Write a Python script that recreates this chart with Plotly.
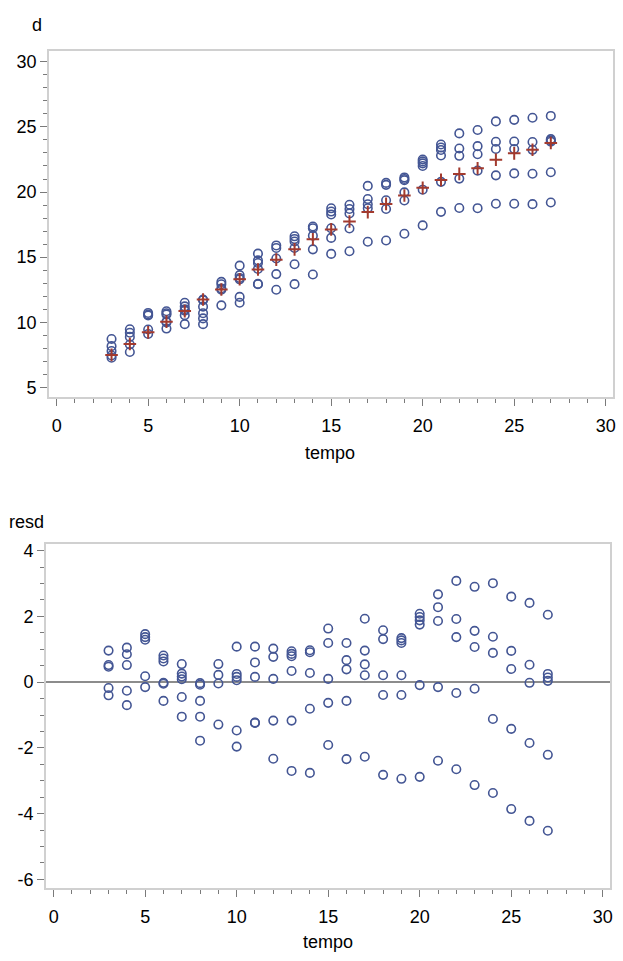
import plotly.graph_objects as go

# ---------------- data ----------------
tempo = list(range(3, 28))

d_obs = [
    [8.72, 8.17, 7.8, 7.45, 7.28],
    [9.47, 9.2, 8.88, 8.3, 7.72],
    [10.72, 10.6, 10.52, 9.45, 9.1],
    [10.85, 10.7, 10.6, 10.05, 10.0, 9.52],
    [11.5, 11.22, 11.0, 10.9, 10.55, 9.86],
    [11.75, 11.7, 11.2, 10.7, 10.3, 9.86],
    [13.1, 12.92, 12.6, 12.5, 11.3],
    [14.35, 13.62, 13.4, 13.3, 11.95, 11.5],
    [15.27, 14.75, 14.55, 14.1, 12.95, 12.92],
    [15.9, 15.7, 14.9, 13.7, 12.5],
    [16.6, 16.4, 16.2, 15.7, 14.46, 12.93],
    [17.35, 17.22, 16.65, 15.6, 13.67],
    [18.75, 18.5, 18.28, 17.22, 16.48, 15.25],
    [19.02, 18.7, 18.36, 17.2, 15.45],
    [20.47, 19.46, 19.06, 18.75, 16.18],
    [20.7, 20.55, 19.37, 18.7, 16.28],
    [21.12, 21.0, 20.9, 19.97, 19.35, 16.8],
    [22.5, 22.35, 22.2, 22.0, 20.18, 17.44],
    [23.65, 23.42, 23.23, 22.8, 20.78, 18.48],
    [24.5, 23.34, 22.78, 21.03, 18.77],
    [24.76, 23.52, 22.9, 21.64, 18.76],
    [25.42, 23.86, 23.3, 21.28, 19.1],
    [25.54, 23.88, 23.3, 21.43, 19.1],
    [25.7, 23.84, 23.24, 21.4, 19.07],
    [25.84, 24.06, 23.96, 23.86, 21.52, 19.2],
]

d_pred = [7.5, 8.34, 9.23, 10.05, 10.86, 11.75, 12.52, 13.31, 14.05, 14.81,
          15.60, 16.37, 17.13, 17.74, 18.46, 19.09, 19.73, 20.32, 20.93, 21.39,
          21.82, 22.48, 22.97, 23.25, 23.76]

resd = [
    [0.96, 0.52, 0.47, -0.18, -0.40],
    [1.05, 0.85, 0.52, -0.26, -0.70],
    [1.46, 1.37, 1.29, 0.18, -0.15],
    [0.81, 0.72, 0.63, -0.02, -0.05, -0.57],
    [0.55, 0.26, 0.17, 0.09, -0.45, -1.05],
    [-0.03, -0.08, -0.57, -1.05, -1.78],
    [0.55, 0.22, -0.04, -1.29],
    [1.08, 0.25, 0.16, 0.06, -1.47, -1.96],
    [1.08, 0.60, 0.16, -1.23, -1.24],
    [1.02, 0.77, 0.10, -1.17, -2.33],
    [0.94, 0.86, 0.79, 0.34, -1.17, -2.70],
    [0.97, 0.91, 0.28, -0.81, -2.76],
    [1.63, 1.19, 0.10, -0.63, -1.91],
    [1.19, 0.67, 0.39, -0.57, -2.34],
    [1.93, 0.96, 0.54, 0.21, -2.27],
    [1.58, 1.31, 0.21, -0.39, -2.82],
    [1.34, 1.27, 1.19, 0.21, -0.39, -2.94],
    [2.08, 1.98, 1.88, 1.75, -0.09, -2.88],
    [2.67, 2.28, 1.86, -0.15, -2.39],
    [3.08, 1.92, 1.37, -0.33, -2.65],
    [2.90, 1.56, 1.07, -0.20, -3.13],
    [3.01, 1.38, 0.89, -1.12, -3.37],
    [2.60, 0.95, 0.40, -1.42, -3.86],
    [2.41, 0.53, -0.02, -1.85, -4.22],
    [2.05, 0.25, 0.14, 0.04, -2.21, -4.52],
]

x_ticks = [0, 5, 10, 15, 20, 25, 30]
d_ticks = [5, 10, 15, 20, 25, 30]
resd_ticks = [-6, -4, -2, 0, 2, 4]
resd_ticktext = ["-6", "-4", "-2", "0", "2", "4"]

# ---------------- build ----------------
W, H = 623, 961
BLUE = "#445694"
RED = "#A23A2E"
FONT = "Liberation Sans, Arial, sans-serif"
FS = 18

def flat(xs, groups):
    xx, yy = [], []
    for x, g in zip(xs, groups):
        for v in g:
            xx.append(x)
            yy.append(v)
    return xx, yy

tx, ty = flat(tempo, d_obs)
rx, ry = flat(tempo, resd)

circ = dict(symbol="circle-open", size=8.5, color=BLUE, line=dict(color=BLUE, width=1.6))

fig = go.Figure()
fig.add_trace(go.Scatter(x=tx, y=ty, mode="markers", marker=circ,
                         xaxis="x", yaxis="y", showlegend=False))
fig.add_trace(go.Scatter(x=tempo, y=d_pred, mode="markers",
                         marker=dict(symbol="cross-thin-open", size=9, color=RED,
                                     line=dict(color=RED, width=2)),
                         xaxis="x", yaxis="y", showlegend=False))
fig.add_trace(go.Scatter(x=rx, y=ry, mode="markers", marker=circ,
                         xaxis="x2", yaxis="y2", showlegend=False))

def px_dom_x(a, b):
    return [a / W, b / W]

def px_dom_y(top, bottom):
    return [1 - bottom / H, 1 - top / H]

frame = "#d0d0d0"
tickc = "#7a7a7a"
tfont = dict(family=FONT, size=FS, color="black")
common_x = dict(range=[-0.43, 30.4], tickvals=x_ticks, ticks="outside", ticklen=7,
                tickwidth=1.2, tickcolor=tickc, showgrid=False, zeroline=False,
                showline=True, linecolor=frame, linewidth=1.5, mirror=True,
                tickfont=tfont, ticklabelstandoff=4,
                minor=dict(dtick=1, tick0=0, ticks="outside", ticklen=4,
                           tickcolor=tickc, tickwidth=1, showgrid=False))

fig.update_layout(
    width=W, height=H, autosize=False,
    margin=dict(l=0, r=0, t=0, b=0),
    paper_bgcolor="white", plot_bgcolor="white",
    font=dict(family=FONT, size=FS, color="black"),
    xaxis=dict(domain=px_dom_x(49, 616), anchor="y", **common_x),
    yaxis=dict(domain=px_dom_y(48, 396), anchor="x", range=[4.24, 30.84],
               tickvals=d_ticks, ticks="outside", ticklen=7, tickwidth=1.2,
               tickcolor=tickc, showgrid=False, zeroline=False, showline=True,
               linecolor=frame, linewidth=1.5, mirror=True, tickfont=tfont,
               minor=dict(dtick=1, tick0=0, ticks="outside", ticklen=4,
                          tickcolor=tickc, tickwidth=1, showgrid=False)),
    xaxis2=dict(domain=px_dom_x(46, 613), anchor="y2", **common_x),
    yaxis2=dict(domain=px_dom_y(543, 889), anchor="x2", range=[-6.27, 4.21],
                tickvals=resd_ticks, ticktext=resd_ticktext, ticks="outside",
                ticklen=7, tickwidth=1.2, tickcolor=tickc, showgrid=False,
                zeroline=True, zerolinecolor="#8c8c8c", zerolinewidth=1.5,
                showline=True, linecolor=frame, linewidth=1.5, mirror=True,
                tickfont=tfont,
                minor=dict(dtick=0.5, tick0=0, ticks="outside", ticklen=4,
                           tickcolor=tickc, tickwidth=1, showgrid=False)),
)

ann = dict(xref="paper", yref="paper", showarrow=False,
           font=dict(family=FONT, size=FS, color="black"))
fig.add_annotation(text="d", x=37 / W, y=1 - 22 / H, xanchor="center", yanchor="middle", **ann)
fig.add_annotation(text="tempo", x=332 / W, y=1 - 452 / H, xanchor="center", yanchor="middle", **ann)
fig.add_annotation(text="resd", x=27 / W, y=1 - 521 / H, xanchor="center", yanchor="middle", **ann)
fig.add_annotation(text="tempo", x=330 / W, y=1 - 943 / H, xanchor="center", yanchor="middle", **ann)

fig.write_html("out.html")
